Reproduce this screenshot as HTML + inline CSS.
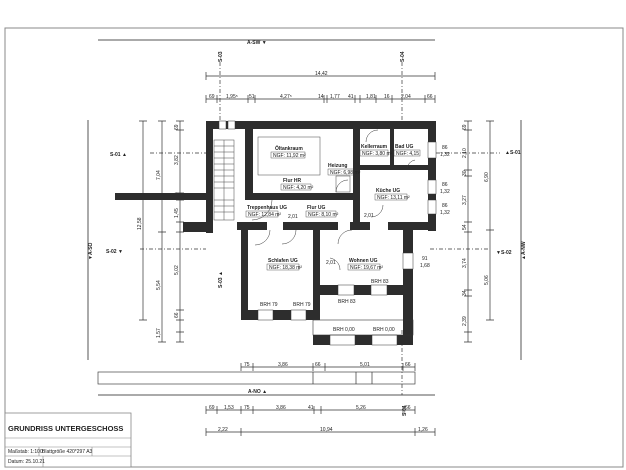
<!DOCTYPE html>
<html><head><meta charset="utf-8"><style>
body{margin:0;background:#fff}
svg{display:block;font-family:"Liberation Sans",sans-serif}
.t{font-size:5px;fill:#222}
.d{stroke:#333;stroke-width:0.7;fill:none}
.th{stroke:#555;stroke-width:1;fill:none}
.w{fill:#2d2d2d}
</style></head><body>
<svg width="626" height="470" viewBox="0 0 626 470">
<rect x="5" y="28" width="618" height="439" fill="#fff" stroke="#888" stroke-width="1"/>
<line x1="98" y1="40" x2="435" y2="40" class="th"/>
<text x="247" y="44" class="t" font-weight="bold" font-size="6">A-SW ▼</text>
<line x1="98" y1="395" x2="435" y2="395" class="th"/>
<text x="248" y="393" class="t" font-weight="bold" font-size="6">A-NO ▲</text>
<line x1="88" y1="120" x2="88" y2="360" class="th"/>
<text transform="translate(92,260) rotate(-90)" class="t" font-weight="bold" font-size="6">▼A-SO</text>
<line x1="521" y1="120" x2="521" y2="360" class="th"/>
<text transform="translate(525,260) rotate(-90)" class="t" font-weight="bold" font-size="6">▲A-NW</text>
<g class="t" font-weight="bold" font-size="6">
<text transform="translate(222,62) rotate(-90)">S-03</text>
<text transform="translate(404,62) rotate(-90)">S-04</text>
<text transform="translate(222,288) rotate(-90)">S-03 ▲</text>
<text transform="translate(406,416) rotate(-90)">S-04</text>
<text x="110" y="156">S-01 ▲</text>
<text x="106" y="253">S-02 ▼</text>
<text x="505" y="154">▲S-01</text>
<text x="496" y="254">▼S-02</text>
</g>
<g stroke="#333" stroke-width="0.7" stroke-dasharray="4,2,1,2">
<line x1="220" y1="62" x2="220" y2="130"/><line x1="402" y1="62" x2="402" y2="130"/>
<line x1="402" y1="330" x2="402" y2="395"/>
<line x1="150" y1="153" x2="206" y2="153"/><line x1="140" y1="249" x2="206" y2="249"/>
<line x1="436" y1="153" x2="500" y2="153"/><line x1="430" y1="249" x2="490" y2="249"/>
</g>
<line x1="206" y1="76" x2="435" y2="76" class="d"/><text x="315" y="75" class="t">14,42</text>
<line x1="206" y1="99" x2="435" y2="99" class="d"/>
<g class="d"><path d="M206,72v8M435,72v8M206,95v8M217,95v8M248,95v8M255,95v8M324,95v8M327,95v8M355,95v8M360,95v8M376,95v8M392,95v8M425,95v8M435,95v8"/></g>
<g class="t"><text x="209" y="98">69</text><text x="226" y="98">1,95⁵</text><text x="249" y="98">51</text><text x="280" y="98">4,27⁵</text><text x="318" y="98">14</text><text x="330" y="98">1,77</text><text x="348" y="98">41</text><text x="366" y="98">1,81</text><text x="384" y="98">16</text><text x="401" y="98">2,04</text><text x="427" y="98">66</text></g>
<g class="d"><path d="M143,121V320M162,121V342M180,121V342M139,121h8M139,320h8M158,121h8M158,232h8M158,342h8M176,121h8M176,130h8M176,193h8M176,200h8M176,222h8M176,232h8M176,310h8M176,320h8M176,332h8M176,342h8"/></g>
<g class="t">
<text transform="translate(141,230) rotate(-90)">12,58</text>
<text transform="translate(160,180) rotate(-90)">7,04</text>
<text transform="translate(160,290) rotate(-90)">5,54</text>
<text transform="translate(160,338) rotate(-90)">1,57</text>
<text transform="translate(178,130) rotate(-90)">69</text>
<text transform="translate(178,165) rotate(-90)">3,82</text>
<text transform="translate(178,198) rotate(-90)">40</text>
<text transform="translate(178,218) rotate(-90)">1,45</text>
<text transform="translate(178,275) rotate(-90)">5,02</text>
<text transform="translate(178,318) rotate(-90)">66</text>
</g>
<g class="d"><path d="M468,121V342M490,121V320M464,121h8M464,130h8M464,170h8M464,176h8M464,222h8M464,232h8M464,290h8M464,296h8M464,332h8M464,342h8M486,121h8M486,230h8M486,320h8"/></g>
<g class="t">
<text transform="translate(466,130) rotate(-90)">69</text>
<text transform="translate(466,158) rotate(-90)">2,10</text>
<text transform="translate(466,176) rotate(-90)">30</text>
<text transform="translate(466,205) rotate(-90)">3,27</text>
<text transform="translate(466,230) rotate(-90)">54</text>
<text transform="translate(466,268) rotate(-90)">3,74</text>
<text transform="translate(466,296) rotate(-90)">34</text>
<text transform="translate(466,326) rotate(-90)">2,39</text>
<text transform="translate(488,182) rotate(-90)">6,90</text>
<text transform="translate(488,285) rotate(-90)">5,06</text>
</g>
<g class="t" font-size="4.5"><text x="442" y="149">86</text><text x="440" y="156">1,32</text><text x="442" y="186">86</text><text x="440" y="193">1,32</text><text x="442" y="207">86</text><text x="440" y="214">1,32</text><text x="422" y="260">91</text><text x="420" y="267">1,68</text></g>
<g class="w">
<rect x="206" y="121" width="229" height="8"/>
<rect x="206" y="121" width="7" height="112"/>
<rect x="428" y="121" width="8" height="110"/>
<rect x="245" y="129" width="8" height="70"/>
<rect x="245" y="193" width="115" height="7"/>
<rect x="353" y="121" width="7" height="108"/>
<rect x="360" y="165" width="70" height="5"/>
<rect x="390" y="129" width="4" height="38"/>
<rect x="115" y="193" width="98" height="7"/>
<rect x="183" y="222" width="30" height="10"/>
<rect x="237" y="222" width="30" height="8"/>
<rect x="283" y="222" width="55" height="8"/>
<rect x="350" y="222" width="20" height="8"/>
<rect x="388" y="222" width="48" height="8"/>
<rect x="241" y="222" width="7" height="98"/>
<rect x="241" y="310" width="79" height="10"/>
<rect x="313" y="230" width="7" height="90"/>
<rect x="320" y="285" width="93" height="10"/>
<rect x="403" y="230" width="10" height="115"/>
<rect x="313" y="335" width="100" height="10"/>
</g>
<g fill="#fff" stroke="#333" stroke-width="0.5">
<rect x="258" y="310" width="15" height="10"/><rect x="291" y="310" width="15" height="10"/>
<rect x="338" y="285" width="16" height="10"/><rect x="371" y="285" width="16" height="10"/>
<rect x="330" y="335" width="25" height="10"/><rect x="372" y="335" width="25" height="10"/>
<rect x="428" y="142" width="8" height="16"/><rect x="428" y="180" width="8" height="14"/><rect x="428" y="200" width="8" height="14"/>
<rect x="403" y="253" width="10" height="16"/>
<rect x="219" y="121" width="7" height="8"/><rect x="228" y="121" width="7" height="8"/>
</g>
<rect x="313" y="320" width="100" height="15" fill="none" stroke="#333" stroke-width="0.6"/>
<g stroke="#444" stroke-width="0.5" fill="none">
<rect x="214" y="140" width="20" height="80"/>
<path d="M214,146h20M214,152h20M214,158h20M214,164h20M214,170h20M214,176h20M214,182h20M214,188h20M214,200h20M214,206h20M214,212h20M224,140v80"/>
<rect x="258" y="137" width="62" height="38"/>
<rect x="336" y="176" width="14" height="16"/>
</g>
<g stroke="#333" stroke-width="0.5" fill="none">
<path d="M272,200a20,20 0 0 1 -20,20M296,230a14,14 0 0 1 -14,14M352,230a14,14 0 0 0 -14,14M330,258a12,12 0 0 1 10,12M378,130a12,12 0 0 0 -12,12M348,180a12,12 0 0 0 -12,12M270,230a15,15 0 0 1 -15,15M415,160a10,10 0 0 0 -8,8M383,205a12,12 0 0 1 -12,12"/>
</g>
<g class="t" font-size="4.5">
<text x="275" y="150" font-weight="bold">Öltankraum</text><rect x="271" y="152" width="34" height="6" fill="none" stroke="#333" stroke-width="0.4"/><text x="273" y="157">NGF: 11,92 m²</text>
<text x="283" y="182" font-weight="bold">Flur HR</text><rect x="281" y="184" width="30" height="6" fill="none" stroke="#333" stroke-width="0.4"/><text x="283" y="189">NGF: 4,20 m²</text>
<text x="328" y="167" font-weight="bold">Heizung</text><rect x="328" y="169" width="26" height="6" fill="none" stroke="#333" stroke-width="0.4"/><text x="330" y="174">NGF: 6,98 m²</text>
<text x="361" y="148" font-weight="bold">Kellerraum</text><rect x="360" y="150" width="28" height="6" fill="none" stroke="#333" stroke-width="0.4"/><text x="362" y="155">NGF: 3,80 m²</text>
<text x="395" y="148" font-weight="bold">Bad UG</text><rect x="394" y="150" width="26" height="6" fill="none" stroke="#333" stroke-width="0.4"/><text x="396" y="155">NGF: 4,15</text>
<text x="376" y="192" font-weight="bold">Küche UG</text><rect x="375" y="194" width="32" height="6" fill="none" stroke="#333" stroke-width="0.4"/><text x="377" y="199">NGF: 13,11 m²</text>
<text x="247" y="209" font-weight="bold">Treppenhaus UG</text><rect x="246" y="211" width="32" height="6" fill="none" stroke="#333" stroke-width="0.4"/><text x="248" y="216">NGF: 12,84 m²</text>
<text x="307" y="209" font-weight="bold">Flur UG</text><rect x="306" y="211" width="30" height="6" fill="none" stroke="#333" stroke-width="0.4"/><text x="308" y="216">NGF: 8,10 m²</text>
<text x="268" y="262" font-weight="bold">Schlafen UG</text><rect x="267" y="264" width="32" height="6" fill="none" stroke="#333" stroke-width="0.4"/><text x="269" y="269">NGF: 18,38 m²</text>
<text x="349" y="262" font-weight="bold">Wohnen UG</text><rect x="348" y="264" width="32" height="6" fill="none" stroke="#333" stroke-width="0.4"/><text x="350" y="269">NGF: 19,67 m²</text>
<text x="260" y="306">BRH 79</text><text x="293" y="306">BRH 79</text>
<text x="338" y="303">BRH 83</text><text x="371" y="283">BRH 83</text>
<text x="333" y="331">BRH 0,00</text><text x="373" y="331">BRH 0,00</text>
<text x="326" y="264">2,01</text><text x="288" y="218">2,01</text><text x="364" y="217">2,01</text>
</g>
<line x1="241" y1="367" x2="415" y2="367" class="d"/>
<g class="d"><path d="M241,363v8M253,363v8M313,363v8M325,363v8M403,363v8M415,363v8"/></g>
<g class="t"><text x="244" y="366">75</text><text x="278" y="366">3,86</text><text x="315" y="366">66</text><text x="360" y="366">5,01</text><text x="405" y="366">66</text></g>
<rect x="98" y="372" width="317" height="12" fill="none" stroke="#444" stroke-width="0.7"/>
<path d="M313,372v12M356,372v12M372,372v12" class="d"/>
<line x1="206" y1="410" x2="415" y2="410" class="d"/>
<g class="d"><path d="M206,406v8M217,406v8M241,406v8M253,406v8M314,406v8M321,406v8M403,406v8M415,406v8"/></g>
<g class="t"><text x="209" y="409">69</text><text x="224" y="409">1,53</text><text x="244" y="409">75</text><text x="276" y="409">3,86</text><text x="308" y="409">41</text><text x="356" y="409">5,26</text><text x="405" y="409">66</text></g>
<line x1="206" y1="432" x2="435" y2="432" class="d"/>
<g class="d"><path d="M206,428v8M241,428v8M415,428v8M435,428v8"/></g>
<g class="t"><text x="218" y="431">2,22</text><text x="320" y="431">10,94</text><text x="418" y="431">1,26</text></g>
<rect x="5" y="413" width="126" height="54" fill="#fff" stroke="#888" stroke-width="0.8"/>
<text x="8" y="431" font-size="7.5" font-weight="bold" fill="#222">GRUNDRISS UNTERGESCHOSS</text>
<path d="M5,438h126M5,447h126M5,456h126M39,447v9M92,447v9M43,456v11" stroke="#888" stroke-width="0.6" fill="none"/>
<g class="t" font-size="4.5"><text x="8" y="453">Maßstab: 1:100</text><text x="42" y="453">Blattgröße 420*297 A3</text><text x="8" y="463">Datum: 25.10.21</text></g>
</svg>
</body></html>
